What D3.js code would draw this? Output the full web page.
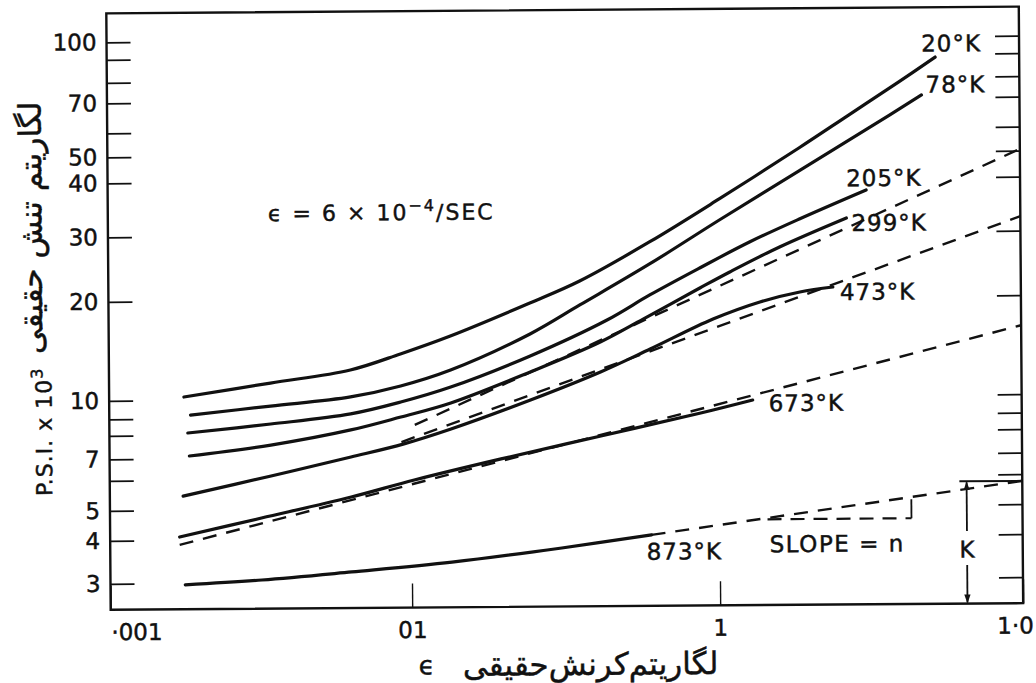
<!DOCTYPE html>
<html>
<head>
<meta charset="utf-8">
<title>True stress vs true strain</title>
<script src="https://cdn.jsdelivr.net/npm/d3@7"></script>
<style>
  body { margin: 0; background: #fff; }
  svg text { font-family: "DejaVu Sans", sans-serif; fill: #111; stroke: #111; stroke-width: 0.45px; }
</style>
</head>
<body>
<svg id="chart" width="1036" height="683"></svg>
<script>
// true strain, true stress (psi x 10^3)
var curve20K  = [[0.00177,10.23],[0.00343,11.23],[0.00632,12.26],[0.00927,13.68],[0.0135,15.47],[0.0245,19.41],[0.0356,22.31],[0.0601,28.42],[0.1015,35.94],[0.1865,51.66],[0.2727,64.1],[0.3988,77.4],[0.528,88.5]];
var curve78K  = [[0.00186,9.19],[0.00343,9.64],[0.00632,10.15],[0.00927,10.93],[0.0135,12.19],[0.0245,15.63],[0.0356,19.1],[0.0601,24.75],[0.1015,32.13],[0.1865,42.59],[0.3176,59.9],[0.475,71.1]];
var curve205K = [[0.00182,8.13],[0.00343,8.63],[0.00632,9.19],[0.00927,9.81],[0.0135,10.82],[0.0245,13.4],[0.0436,17.17],[0.0601,20.37],[0.0874,24.08],[0.1275,28.28],[0.1865,32.2],[0.3102,37.48]];
var curve299K = [[0.00184,7.11],[0.00343,7.54],[0.00632,8.24],[0.00927,9.01],[0.0135,9.74],[0.0245,11.98],[0.0414,14.72],[0.0571,17.25],[0.0874,21.23],[0.1096,23.45],[0.1602,27.37],[0.2666,32.31]];
var curve473K = [[0.00175,5.45],[0.00343,6.16],[0.00632,7.02],[0.00948,7.55],[0.0135,8.25],[0.0245,9.87],[0.0414,11.93],[0.0601,13.98],[0.0963,17.19],[0.1376,19.33],[0.1865,20.61],[0.2396,21.23]];
var curve673K = [[0.0017,4.1],[0.00318,4.7],[0.00632,5.38],[0.01023,5.95],[0.0196,6.88],[0.0414,7.83],[0.0874,9.1],[0.1295,9.78]];
var curve873K = [[0.00177,2.97],[0.00318,3.055],[0.00632,3.21],[0.0135,3.41],[0.0307,3.73],[0.0601,4.06]];

// dashed power-law lines (two end points each)
var fitA = [[0.0103,8.51],[1.0,50.65]];
var fitB = [[0.0093,7.63],[1.0,32.4]];
var fitC = [[0.0017,3.88],[1.0,16.2]];
var fitD = [[0.0601,4.06],[1.0,5.76]];

var slopeTri = [[0.144,4.53],[0.43,4.53],[0.43,5.18]];
var kStress = 5.76, kStrain = 0.655;

var curves = [curve20K, curve78K, curve205K, curve299K, curve473K, curve673K, curve873K];
var curveNames = ["20°K", "78°K", "205°K", "299°K", "473°K", "673°K", "873°K"];
var fits = [fitA, fitB, fitC, fitD];

var xTickValues = [0.001, 0.01, 0.1, 1];
var xTickLabels = ["·001", "01", "1", "1·0"];
var yTickValues = [3,4,5,6,7,8,9,10,20,30,40,50,60,70,80,90,100];
var yTickLabels = [3,4,5,7,10,20,30,40,50,70,100];

// where the printed axes put their ticks (the scan is not quite logarithmic)
var xTickPos = [108.5, 410, 718, 1021];
var yTickPos = [580.5,537.5,507.5,477.5,456,432.5,416,397.5,298.5,234,180,154,130,100,79.5,56.5,39];
var frame = {top: 10, bottom: 606.5};

// label anchors in data units
var nameAt = [[0.475,95.9],[0.49,76.2],[0.2666,40],[0.2768,31.5],[0.2527,20.6],[0.1462,9.61],[0.0579,3.63]];

var x = d3.scaleLog().domain(xTickValues).range(xTickPos);
var y = d3.scaleLog().domain(yTickValues).range(yTickPos);

var svg = d3.select("#chart");
var defs = svg.append("defs");
defs.append("marker").attr("id", "arr")
  .attr("viewBox", "0 0 10 10").attr("refX", 9).attr("refY", 5)
  .attr("markerWidth", 9).attr("markerHeight", 9).attr("orient", "auto-start-reverse")
  .attr("markerUnits", "userSpaceOnUse")
  .append("path").attr("d", "M0,1.5 L10,5 L0,8.5 Z").attr("fill", "#111");

// whole scan sits slightly tilted
var g = svg.append("g").attr("transform", "rotate(-0.42,564,310)");

var x0 = x(0.001), x1 = x(1);

// frame
g.append("rect")
  .attr("x", x0).attr("y", frame.top)
  .attr("width", x1 - x0).attr("height", frame.bottom - frame.top)
  .attr("fill", "none").attr("stroke", "#111").attr("stroke-width", 2.4);

// left axis
var yl = g.append("g").attr("transform", "translate(" + x0 + ",0)")
  .call(d3.axisLeft(y).tickValues(yTickValues).tickSize(-24).tickPadding(10)
    .tickFormat(function(d) { return yTickLabels.indexOf(d) >= 0 ? d : ""; }));
// right axis ticks
var yr = g.append("g").attr("transform", "translate(" + x1 + ",0)")
  .call(d3.axisRight(y).tickValues(yTickValues).tickSize(-24).tickFormat(""));
// bottom
var xb = g.append("g").attr("transform", "translate(0," + frame.bottom + ")")
  .call(d3.axisBottom(x).tickValues(xTickValues).tickSize(-24).tickPadding(14)
    .tickFormat(function(d, i) { return xTickLabels[i]; }));

[yl, yr, xb].forEach(function(a) {
  a.select(".domain").remove();
  a.selectAll(".tick line").attr("stroke", "#111").attr("stroke-width", 1.8);
  a.selectAll(".tick text").attr("font-size", 23).attr("fill", "#111")
    .attr("font-family", "DejaVu Sans, sans-serif");
});
xb.selectAll(".tick line").attr("stroke-width", 1.4);
xb.selectAll(".tick text")
  .attr("text-anchor", function(d, i) { return i === 0 ? "start" : (i === 3 ? "end" : "middle"); })
  .attr("dx", function(d, i) { return i === 3 ? 10 : 0; });

// curves
var line = d3.line()
  .x(function(d) { return x(d[0]); })
  .y(function(d) { return y(d[1]); })
  .curve(d3.curveCatmullRom.alpha(0.5));

g.selectAll("path.fit").data(fits).enter().append("path")
  .attr("class", "fit")
  .attr("d", line)
  .attr("fill", "none").attr("stroke", "#111").attr("stroke-width", 2.4)
  .attr("stroke-dasharray", "14 10");

g.selectAll("path.curve").data(curves).enter().append("path")
  .attr("class", "curve")
  .attr("d", line)
  .attr("fill", "none").attr("stroke", "#111").attr("stroke-width", 3.2)
  .attr("stroke-linecap", "round");

// slope triangle on the 873 K line
g.append("path").attr("d", line.curve(d3.curveLinear)(slopeTri.slice(0, 2)))
  .attr("fill", "none").attr("stroke", "#111").attr("stroke-width", 2.2)
  .attr("stroke-dasharray", "14 9");
g.append("path").attr("d", line(slopeTri.slice(1)))
  .attr("fill", "none").attr("stroke", "#111").attr("stroke-width", 1.8);

// K marker
var kx = x(kStrain), ky = y(kStress), kLabelY = y(3.63);
g.append("line").attr("x1", x(0.62)).attr("x2", x1).attr("y1", ky).attr("y2", ky)
  .attr("stroke", "#111").attr("stroke-width", 2);
g.append("line").attr("x1", kx).attr("x2", kx).attr("y1", kLabelY - 18).attr("y2", ky + 1)
  .attr("stroke", "#111").attr("stroke-width", 1.8).attr("marker-end", "url(#arr)");
g.append("line").attr("x1", kx).attr("x2", kx).attr("y1", kLabelY + 16).attr("y2", frame.bottom - 1)
  .attr("stroke", "#111").attr("stroke-width", 1.8).attr("marker-end", "url(#arr)");
g.append("text").attr("x", kx).attr("y", kLabelY).attr("dy", "0.36em")
  .attr("text-anchor", "middle").attr("font-size", 23).text("K");

// curve names
g.selectAll("text.name").data(curveNames).enter().append("text")
  .attr("class", "name")
  .attr("x", function(d, i) { return x(nameAt[i][0]); })
  .attr("y", function(d, i) { return y(nameAt[i][1]); })
  .attr("dy", "0.36em").attr("font-size", 23).attr("letter-spacing", 1)
  .text(function(d) { return d; });

g.append("text").attr("x", x(0.1462)).attr("y", y(3.79)).attr("dy", "0.36em")
  .attr("font-size", 23).attr("letter-spacing", 1.5).text("SLOPE = n");

// strain rate note
var rate = g.append("text").attr("x", x(0.0034)).attr("y", y(33.9)).attr("dy", "0.36em")
  .attr("font-size", 22).attr("letter-spacing", 2);
rate.append("tspan").text("ϵ = 6 × 10");
rate.append("tspan").attr("dy", -9).attr("font-size", 16).text("−4");
rate.append("tspan").attr("dy", 9).text("/SEC");

// axis titles
var yt = g.append("text").attr("transform", "translate(43,428) rotate(-90)")
  .attr("text-anchor", "middle").attr("dy", "0.36em").attr("font-size", 22).attr("letter-spacing", 1);
yt.append("tspan").text("P.S.I. x 10");
yt.append("tspan").attr("dy", -9).attr("font-size", 16).text("3");

g.append("text").attr("transform", "translate(31,224) rotate(-90)")
  .attr("text-anchor", "middle").attr("dy", "0.36em").attr("font-size", 31)
  .attr("stroke-width", 0.2)
  .text("لگاریتم تنش حقیقی");

g.append("text").attr("x", 424).attr("y", 664).attr("dy", "0.36em")
  .attr("text-anchor", "middle").attr("font-size", 26).text("ϵ");
g.append("text").attr("x", 588).attr("y", 664).attr("dy", "0.36em")
  .attr("text-anchor", "middle").attr("font-size", 31)
  .attr("stroke-width", 0.2)
  .text("لگاریتم\u200cکرنش\u200cحقیقی");
</script>
</body>
</html>
